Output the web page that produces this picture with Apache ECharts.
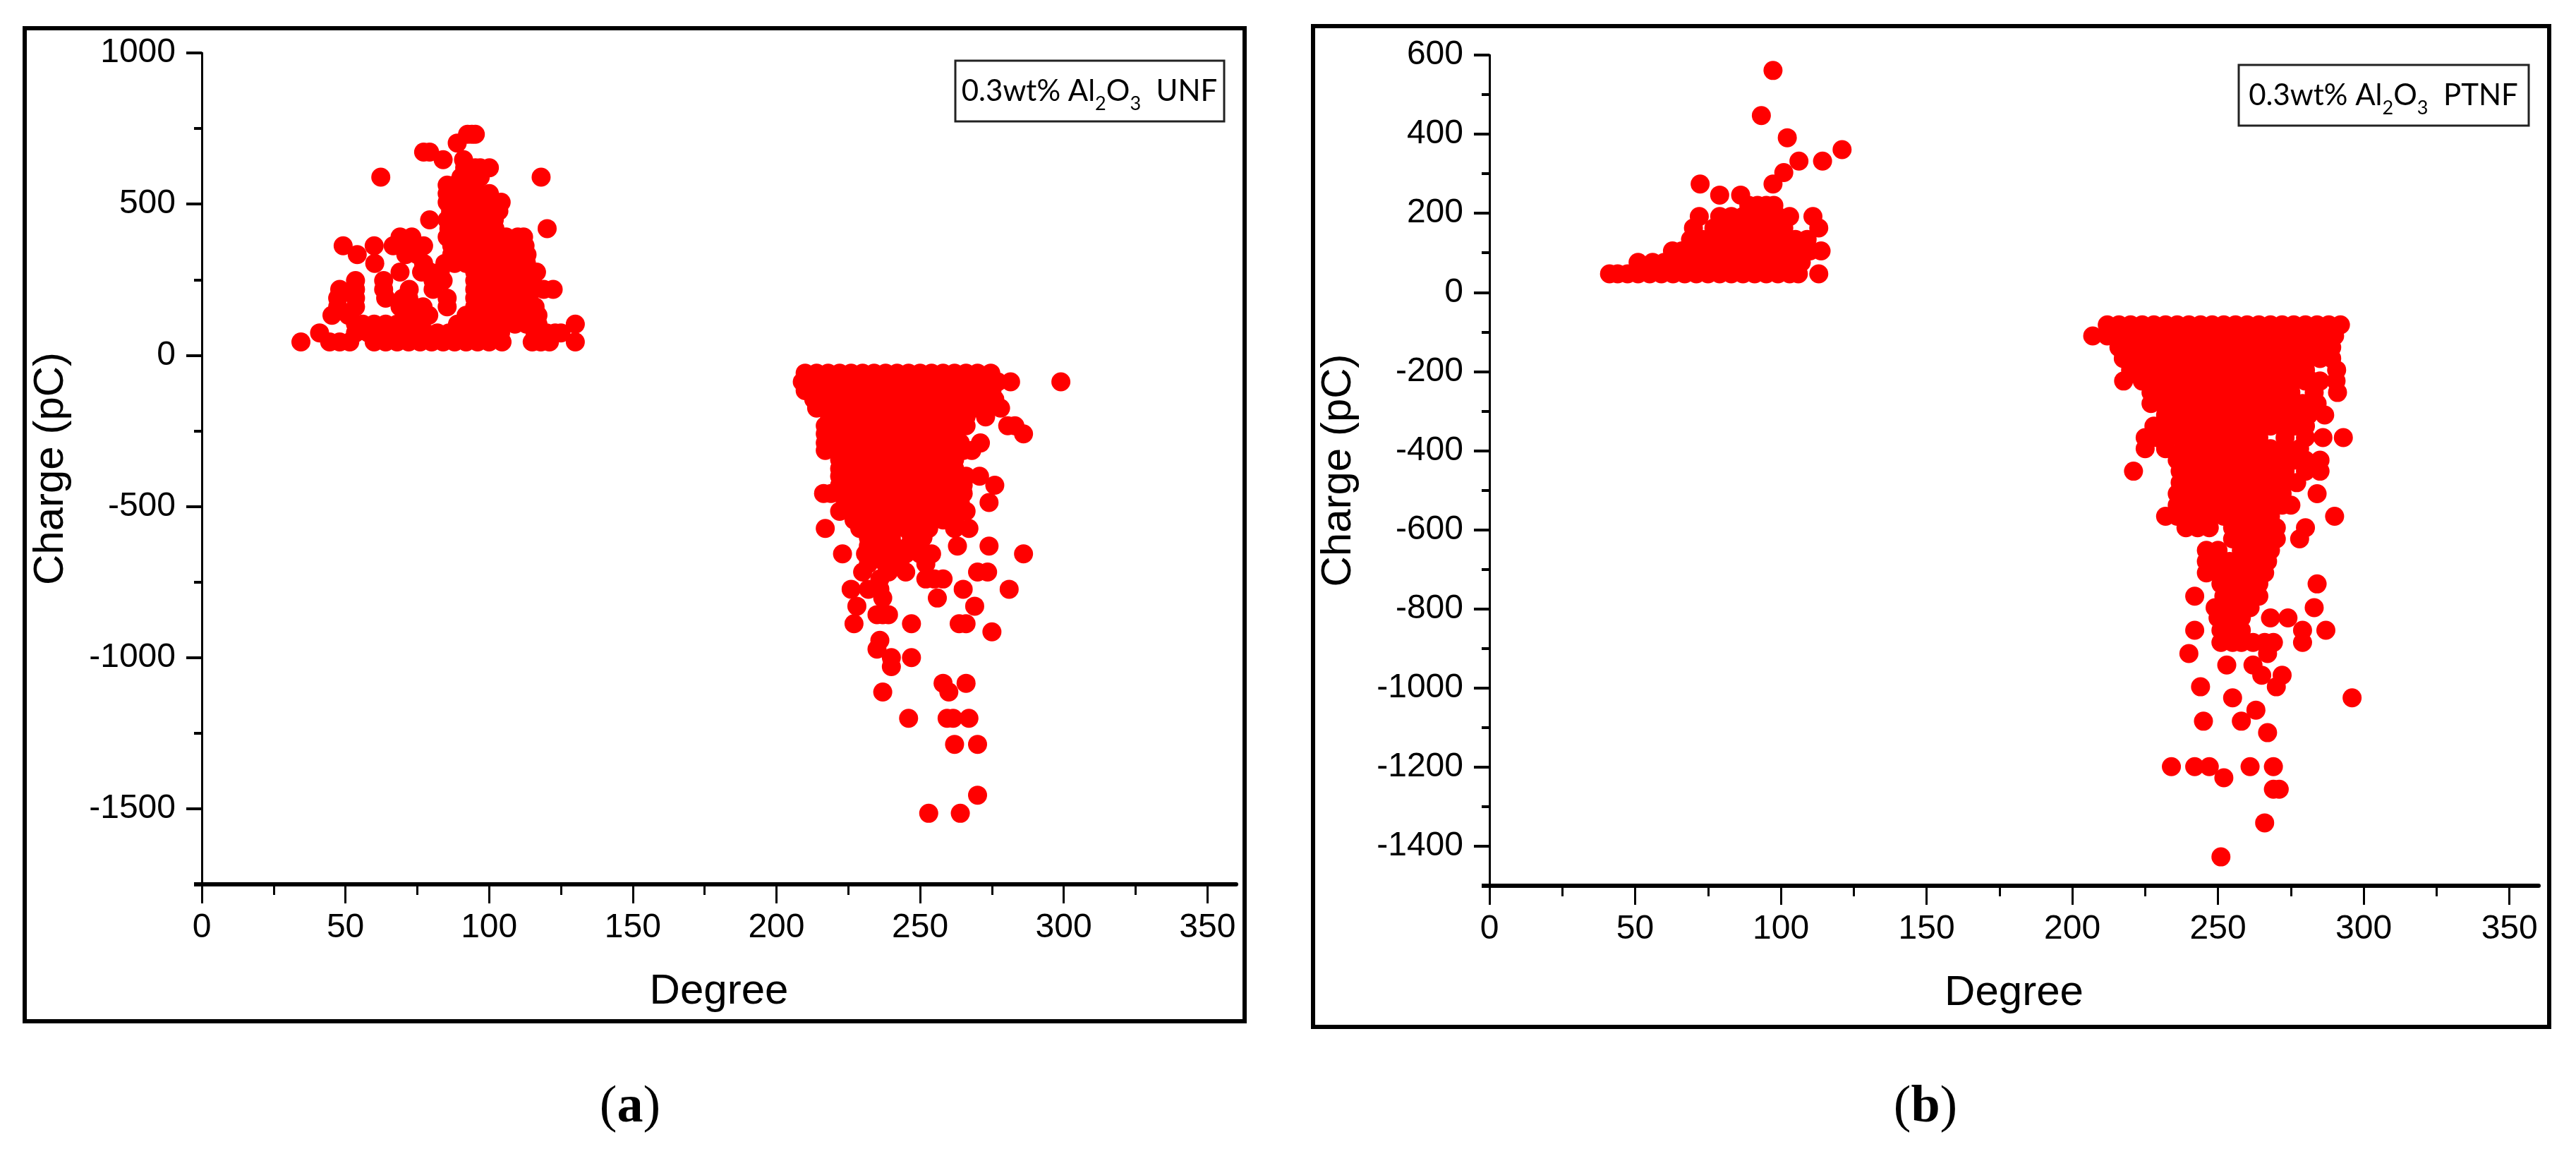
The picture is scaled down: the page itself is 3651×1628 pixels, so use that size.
<!DOCTYPE html>
<html><head><meta charset="utf-8">
<style>html,body{margin:0;padding:0;background:#fff}#c{width:3651px;height:1628px}</style>
<script src="https://cdn.jsdelivr.net/npm/echarts@6/dist/echarts.min.js"></script>
</head><body><div id="c"></div>
<script>
// Each row: charge (pC) followed by the degrees read at that charge level.
const unfPositive = [
[731,92.5,94,95.2],
[702,88.9],
[672,77.2,79.3],
[647,84,91.1],
[620,91.5,95.2,96.9,100.1],
[589,62.3,118.1,90.2,94.4,96.9],
[563,85.4,87.9,91.1,95],
[535,85.4,88.7,92,95.2,100.1],
[506,85.4,89.1,92.8,96.9,101.4,104.2],
[477,86.6,90.3,94.4,98.5,103.4],
[448,79.3,85.4,89.1,93.6,97.7,101.8],
[419,120.2,86,90,94,98,102],
[391,69,73.1,85.4,89.5,93.6,97.7,101.8,105.9,110,112],
[362,49.2,60,66.6,69,72.3,77.2,87,91,95,99,103,107,111,112.5],
[333,54.1,71,75,87,91,95,99,103,107,111,113.2],
[304,60.2,77.2,84.6,88,92,96,100,104,108,112,113],
[275,69,76.5,79.5,83,95,98,102,106,110,114,116.5],
[247,53.5,63.3,80.5,84,95,97,101,105,109,113,115],
[218,53.5,48,63.3,72.2,80.5,95,100,104,108,112,115.5,119,122.3],
[189,47.3,53.5,64,70,72,85.4,95,99,103,107,111,113],
[160,47.3,53.5,69,74,77,85.4,95,99,103,107,111,113,116],
[132,45.3,51,71,75,79,92,96,100,104,108,112,115,117],
[103,53.5,56,60,64,68,72,76,89,93,97,101,105,109,113,117,130],
[74,41,53.5,58,62,66,70,74,78,82,86,90,94,98,102,104,116,120,123,125],
[44,34.5,44.5,48,51.5,60,64,68,72,76,80,84,88,92,96,100,104.5,115,118,121,130]
];
const unfNegative = [
[-59,210,214,218,222,226,230,234,238,242,246,250,254,258,262,266,270,274.6],
[-88,209,213,217,221,225,229,233,237,241,245,249,253,257,261,265,269,273,277,281.5,299],
[-117,210,214,218,222,226,230,234,238,242,246,250,254,258,262,266,270,275],
[-146,213,217,221,225,229,233,237,241,245,249,253,257,261,265,269,273,276],
[-175,214,218,222,226,230,234,238,242,246,250,254,258,262,266,270,274,278],
[-204,218.5,222,226,230,234,238,242,246,250,254,258,262,266,272.8],
[-233,217,221,225,229,233,237,241,245,249,253,257,261,266,280.5,283],
[-260,217,221,225,229,233,237,241,245,249,253,257,262,286],
[-290,217,221,225,229,233,237,241,245,249,253,257,261,264,271],
[-315,217,221,225,229,233,237,241,245,249,253,257,261,265,268],
[-345,222,226,230,234,238,242,246,250,254,258,262],
[-375,222,226,230,234,238,242,246,250,254,258,262],
[-400,222,226,230,234,238,242,246,250,254,258,262,266,270.7],
[-430,222,226,230,234,238,242,246,250,254,258,262,265,276],
[-457,216.4,219,222,226,230,234,238,242,246,250,254,258,262,265],
[-487,225,229,233,237,241,245,249,253,257,261,264,274],
[-516,222,226,230,234,238,242,246,250,254,258,262,266],
[-545,227,231,235,239,243,245,252,258,262],
[-573,217,229,233,237,241,245,249,253,262,267],
[-603,232,236,240,247,251],
[-631,232,236,241,246,250,263,274],
[-657,223,231,235,240,245,250,254,286],
[-690,232,238,243,252],
[-717,230,239,245,270,273.5],
[-740,236,252,255,258],
[-774,226,232,236,265,281],
[-803,237,256],
[-830,228,269],
[-858,235,237,239],
[-888,227,247,263.6,266],
[-915,275],
[-943,236],
[-972,235],
[-1000,240,247],
[-1030,240],
[-1085,258,266],
[-1114,237,260],
[-1201,246,259.4,261.5,267],
[-1287,262,270],
[-1455,270],
[-1515,253,264]
];
const ptnfPositive = [
[561,97.3],
[447,93.3],
[391,102.2],
[361,121],
[332,106.2,114.3],
[303,101],
[274,72.3,97.3],
[246,79,86.2],
[220,89,92,95,97.6],
[192,72,79,83,87,91,95,99,103,111],
[163,70,77,83,86,90,94,97,101,113],
[134,69,73,77,81,85,89,93,97,101,105,109],
[105,62.8,66,70,74,78,82,86,90,94,98,102,106,110,113.8],
[76,51,56,60,64,68,72,76,80,84,88,92,96,100,104,107],
[47,41.2,44,47.4,51,55,59,63,67,71,75,79,83,87,91,95,99,103,106,113]
];
const ptnfNegative = [
[-82,212,216,220,224,228,232,236,240,244,248,252,256,260,264,268,272,276,280,284,288,292],
[-110,207,212,216,220,224,228,232,236,240,244,248,252,256,260,264,268,272,276,280,284,288,290],
[-139,216,220,224,228,232,236,240,244,248,252,256,260,264,268,272,276,280,284,289],
[-167,217.5,221,225,229,233,237,241,245,249,253,257,261,265,269,273,277,281,285,289],
[-196,220,224,228,232,236,240,244,248,252,256,260,264,268,272,276,280,290.7],
[-224,217.6,224,228,232,236,240,244,248,252,256,260,264,268,272,276,280,282,285,290.5],
[-253,227,231,235,239,243,247,251,255,259,263,267,271,275,283,291],
[-281,227,231,235,239,243,247,251,255,259,263,267,271,275,279,284],
[-310,232,236,240,244,248,252,256,260,264,268,272,276,281,286.6],
[-338,228,232,236,240,244,248,252,256,260,264,268,272,276,280],
[-367,225,229,233,237,241,245,249,253,257,261,264,273,280,286,293],
[-395,225,232,238,242,246,250,254,258,262,268,273,278],
[-424,236,240,244,248,252,256,260,264,268,272,276,280,285],
[-452,221,237,241,245,249,253,257,261,265,269,273,280,285],
[-481,237,241,245,249,253,257,261,265,269,273,277],
[-509,236,240,244,248,252,256,260,264,268,272,284],
[-538,236,240,244,248,252,256,260,264,268,272,275],
[-566,232,236,240,244,248,252,256,260,264,268,290],
[-595,239,243,247,255,259,263,267,270,280],
[-623,255,258,261,264,267,270,278],
[-652,246,250,258,262,266,268],
[-680,246,250,254,260,264,267],
[-709,246,250,254,258,262,266],
[-737,251,255,259,264,284],
[-768,242,252,256,260,264],
[-797,249,255,258,261,283],
[-823,250,254,258,268,274],
[-854,242,251,255,258,279,287],
[-885,251,255,258,262,266,269,279],
[-913,240,267],
[-942,253,262],
[-968,265,272],
[-997,244,270],
[-1025,255,296],
[-1056,263],
[-1084,245,258],
[-1113,267],
[-1199,234,242,247,261,269],
[-1227,252],
[-1256,269,271],
[-1341,266],
[-1427,251]
];
const degreeTicks = [0,50,100,150,200,250,300,350];
const degreeMinorTicks = [25,75,125,175,225,275,325];
const unfChargeTicks = [-1500,-1000,-500,0,500,1000];
const unfChargeMinorTicks = [-1750,-1250,-750,-250,250,750];
const ptnfChargeTicks = [-1400,-1200,-1000,-800,-600,-400,-200,0,200,400,600];
const ptnfChargeMinorTicks = [-1500,-1300,-1100,-900,-700,-500,-300,-100,100,300,500];

const toPoints = rows => rows.flatMap(r => r.slice(1).map(d => [d, r[0]]));
const FONT = 'Liberation Sans';
const hiddenPart = {show:false};
const plain = v => String(v);
function xAxes(gridIndex){
  return [{
    type:'value',gridIndex,min:0,max:360,position:'bottom',
    name:'Degree',nameLocation:'middle',nameGap:122,
    nameTextStyle:{fontFamily:FONT,fontSize:60,color:'#000'},
    axisLine:{show:true,onZero:false,lineStyle:{color:'#000',width:6}},
    axisTick:{show:true,customValues:degreeTicks,length:27,lineStyle:{color:'#000',width:3}},
    axisLabel:{show:true,customValues:degreeTicks,margin:38,formatter:plain,fontFamily:FONT,fontSize:48,color:'#000'},
    splitLine:hiddenPart
  },{
    type:'value',gridIndex,min:0,max:360,position:'bottom',
    axisLine:{show:false,onZero:false},
    axisTick:{show:true,customValues:degreeMinorTicks,length:15,lineStyle:{color:'#000',width:3}},
    axisLabel:hiddenPart,splitLine:hiddenPart
  }];
}
function yAxes(gridIndex,min,max,major,minor,nameGap){
  return [{
    type:'value',gridIndex,min,max,position:'left',
    name:'Charge (pC)',nameLocation:'middle',nameGap,
    nameTextStyle:{fontFamily:FONT,fontSize:60,color:'#000'},
    axisLine:{show:true,onZero:false,lineStyle:{color:'#000',width:3}},
    axisTick:{show:true,customValues:major,length:22,lineStyle:{color:'#000',width:4}},
    axisLabel:{show:true,customValues:major,margin:37,formatter:plain,fontFamily:FONT,fontSize:48,color:'#000'},
    splitLine:hiddenPart
  },{
    type:'value',gridIndex,min,max,position:'left',
    axisLine:{show:false,onZero:false},
    axisTick:{show:true,customValues:minor,length:11,lineStyle:{color:'#000',width:4}},
    axisLabel:hiddenPart,splitLine:hiddenPart
  }];
}
const scatter = (data,xAxisIndex,yAxisIndex) => ({
  type:'scatter',data,xAxisIndex,yAxisIndex,symbol:'circle',symbolSize:27,
  itemStyle:{color:'#ff0000',opacity:1},silent:true,animation:false
});
const frame = (x,y,w,h,lineWidth,stroke) => ({type:'rect',silent:true,z:0,shape:{x,y,width:w,height:h},style:{fill:'none',stroke,lineWidth}});
const stub = (x1,x2,y) => ({type:'line',silent:true,z:3,shape:{x1,y1:y,x2,y2:y},style:{stroke:'#000',lineWidth:6}});
const legendRich = {
  m:{fontFamily:'Lato',fontSize:42,color:'#111',lineHeight:64,verticalAlign:'middle'},
  s:{fontFamily:'Lato',fontSize:27,color:'#111',lineHeight:64,verticalAlign:'bottom'}
};
const legendText = (x,y,label) => ({type:'text',silent:true,z:5,x,y,style:{
  text:'{m|0.3wt% Al}{s|2}{m|O}{s|3}{m|  '+label+'}',rich:legendRich,align:'center',verticalAlign:'middle'}});
const caption = (x,y,letter) => ({type:'text',silent:true,z:5,x,y,style:{
  text:'{n|(}{b|'+letter+'}{n|)}',align:'center',verticalAlign:'middle',
  rich:{n:{fontFamily:'Liberation Serif',fontSize:74,color:'#000'},b:{fontFamily:'Liberation Serif',fontSize:74,fontWeight:'bold',color:'#000'}}}});

const chart = echarts.init(document.getElementById('c'),null,{renderer:'canvas'});
chart.setOption({
  backgroundColor:'#fff',animation:false,
  grid:[{left:286,top:75,width:1466,height:1178},{left:2111,top:78,width:1487,height:1177}],
  xAxis:[...xAxes(0),...xAxes(1)],
  yAxis:[...yAxes(0,-1750,1000,unfChargeTicks,unfChargeMinorTicks,184),...yAxes(1,-1500,600,ptnfChargeTicks,ptnfChargeMinorTicks,184)],
  series:[
    scatter(toPoints(unfPositive),0,0),
    scatter(toPoints(unfNegative),0,0),
    scatter(toPoints(ptnfPositive),2,2),
    scatter(toPoints(ptnfNegative),2,2)
  ],
  graphic:[
    frame(35,40,1729,1407,6,'#000'),
    frame(1861,37,1752,1418,6,'#000'),
    frame(1354,86,381,86,3,'#222'),
    frame(3173,92,411,86,3,'#222'),
    stub(275,286,1253),
    stub(2100,2111,1255),
    legendText(1544,129,'UNF'),
    legendText(3378,135,'PTNF'),
    caption(893,1570,'a'),
    caption(2729,1570,'b')
  ]
});
</script></body></html>
